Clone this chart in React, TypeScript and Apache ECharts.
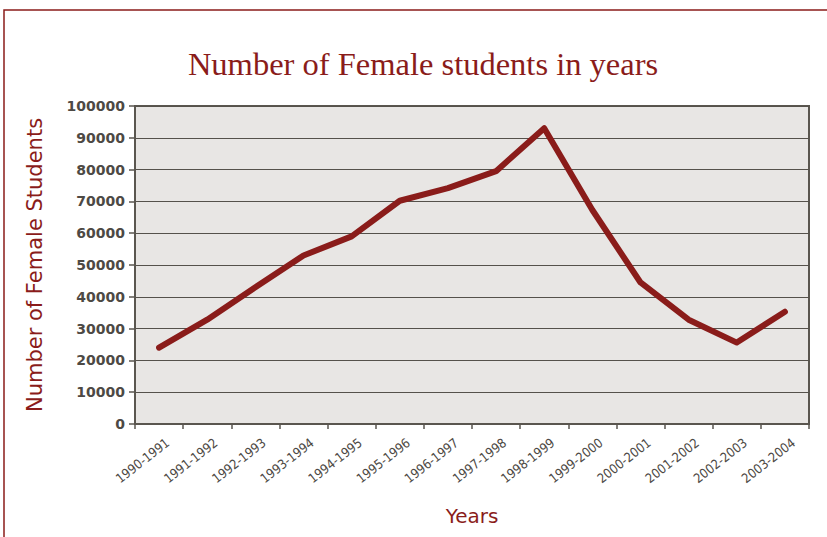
import React, { useEffect, useRef } from "react";
import * as echarts from "echarts";

const categories = [
  "1990-1991", "1991-1992", "1992-1993", "1993-1994", "1994-1995", "1995-1996", "1996-1997",
  "1997-1998", "1998-1999", "1999-2000", "2000-2001", "2001-2002", "2002-2003", "2003-2004",
];
const femaleStudents = [
  24000, 32800, 43000, 53000, 59000, 70200, 74200, 79500, 93000, 67300, 44500, 32800, 25600, 35300,
];
const yTicks = { min: 0, max: 100000, interval: 10000 };

const red = "#8a1c1a";
const gray = "#4d4944";

export default function App() {
  const ref = useRef<HTMLDivElement>(null);
  useEffect(() => {
    if (!ref.current) return;
    const chart = echarts.init(ref.current, null, { renderer: "svg" });
    chart.setOption({
      animation: false,
      backgroundColor: "#ffffff",
      title: {
        text: "Number of Female students in years",
        left: 418,
        top: 42,
        textAlign: "center",
        textStyle: { fontFamily: "Liberation Serif", fontWeight: "normal", fontSize: 32.5, color: red },
      },
      graphic: [
        {
          type: "rect",
          shape: { x: 4, y: 10, width: 840, height: 540 },
          style: { fill: "none", stroke: red, lineWidth: 1.5 },
          silent: true,
        },
      ],
      grid: {
        left: 135,
        right: 18,
        top: 106,
        bottom: 113,
        show: true,
        backgroundColor: "#e8e6e4",
        borderColor: "#5a564f",
        borderWidth: 2,
      },
      xAxis: {
        type: "category",
        data: categories,
        boundaryGap: true,
        name: "Years",
        nameLocation: "middle",
        nameGap: 82,
        nameTextStyle: { fontFamily: "DejaVu Sans", fontSize: 20, color: red },
        axisLine: { show: true, lineStyle: { color: "#5a564f", width: 2 } },
        axisTick: { show: true, alignWithLabel: false, length: 5, lineStyle: { color: "#5a564f", width: 1.5 } },
        axisLabel: {
          rotate: 38,
          interval: 0,
          margin: 6,
          align: "right",
          verticalAlign: "top",
          lineHeight: 28,
          fontFamily: "DejaVu Sans Condensed",
          fontSize: 13,
          color: gray,
        },
        splitLine: { show: false },
      },
      yAxis: {
        type: "value",
        min: yTicks.min,
        max: yTicks.max,
        interval: yTicks.interval,
        name: "Number of Female Students",
        nameLocation: "middle",
        nameGap: 90,
        nameTextStyle: { fontFamily: "DejaVu Sans", fontSize: 21, color: red },
        axisLine: { show: true, lineStyle: { color: "#5a564f", width: 2 } },
        axisTick: { show: true, length: 6, lineStyle: { color: "#5a564f", width: 1.5 } },
        axisLabel: {
          margin: 10,
          fontFamily: "DejaVu Sans",
          fontWeight: "bold",
          fontSize: 14,
          color: gray,
          formatter: (v: number) => String(v),
        },
        splitLine: { show: true, lineStyle: { color: "#55514b", width: 1 } },
      },
      series: [
        {
          type: "line",
          data: femaleStudents,
          symbol: "none",
          lineStyle: { color: red, width: 6, cap: "round", join: "round" },
        },
      ],
    });
    return () => chart.dispose();
  }, []);
  return (
    <div
      ref={ref}
      style={{ position: "fixed", left: 0, top: 0, width: 827, height: 537 }}
    />
  );
}
